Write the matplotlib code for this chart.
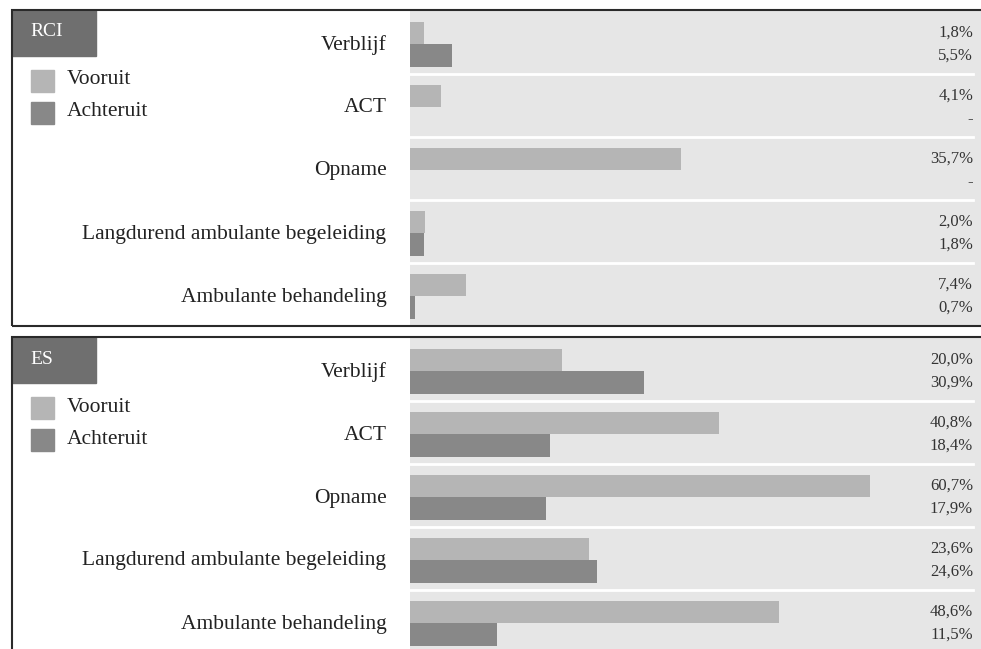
import numpy as np
import matplotlib
matplotlib.use("Agg")
import matplotlib.pyplot as plt
from matplotlib.patches import Rectangle
from matplotlib.transforms import blended_transform_factory

plt.rcParams["font.family"] = ["Liberation Serif", "DejaVu Serif"]

categories = ["Verblijf", "ACT", "Opname",
              "Langdurend ambulante begeleiding", "Ambulante behandeling"]
series_names = ["Vooruit", "Achteruit"]

rci_vooruit = [1.8, 4.1, 35.7, 2.0, 7.4]
rci_achteruit = [5.5, None, None, 1.8, 0.7]
es_vooruit = [20.0, 40.8, 60.7, 23.6, 48.6]
es_achteruit = [30.9, 18.4, 17.9, 24.6, 11.5]

panels = [("RCI", rci_vooruit, rci_achteruit), ("ES", es_vooruit, es_achteruit)]

W, H = 981, 649
LIGHT = "#b5b5b5"
DARK = "#888888"
BG = "#e6e6e6"
TITLE_BG = "#6f6f6f"
FRAME = "#2a2a2a"

fig = plt.figure(figsize=(W / 100, H / 100), dpi=100)


def fx(x):
    return x / W


def fy(y):
    return 1 - y / H


def fmt(v):
    return "-" if v is None else f"{v:.1f}%".replace(".", ",")


panel_tops = [10, 337]
panel_h = 316
bar_left = 410
x_max = 75.3
bh = 0.36
shift = 0.03

for (name, voor, acht), top in zip(panels, panel_tops):
    bottom = top + panel_h
    # panel frame (open on the right)
    fig.patches.append(Rectangle((fx(12), fy(bottom)), fx(W + 20 - 12), fy(top) - fy(bottom),
                                 transform=fig.transFigure, fill=False,
                                 edgecolor=FRAME, linewidth=1.5, zorder=5))
    # bar area
    ax = fig.add_axes([fx(bar_left), fy(bottom), fx(W - bar_left), fy(top + 1) - fy(bottom)])
    ax.set_facecolor(BG)
    n = len(categories)
    y = np.arange(n)
    v1 = np.array([np.nan if v is None else v for v in voor], dtype=float)
    v2 = np.array([np.nan if v is None else v for v in acht], dtype=float)
    ax.barh(y - bh / 2 + shift, np.nan_to_num(v1), height=bh, color=LIGHT, align="center")
    ax.barh(y + bh / 2 + shift, np.nan_to_num(v2), height=bh, color=DARK, align="center")
    ax.set_xlim(0, x_max)
    ax.set_ylim(n - 0.5, -0.5)
    tr = blended_transform_factory(ax.transAxes, ax.transData)
    for i in range(n - 1):
        ax.plot([0, 0.986], [i + 0.5, i + 0.5], color="white", linewidth=2, transform=tr)
    for i in range(n):
        ax.text(0.986, i - bh / 2 + shift, fmt(voor[i]), transform=tr, ha="right",
                va="center", fontsize=12, color="#333333")
        ax.text(0.986, i + bh / 2 + shift, fmt(acht[i]), transform=tr, ha="right",
                va="center", fontsize=12, color="#333333")
    ax.set_yticks(y)
    ax.set_yticklabels(categories, fontsize=15.5, color="#222222")
    ax.tick_params(axis="y", length=0, pad=17)
    ax.set_xticks([])
    for s in ax.spines.values():
        s.set_visible(False)

    # title tab
    fig.patches.append(Rectangle((fx(12), fy(top + 46)), fx(96 - 12), fy(top) - fy(top + 46),
                                 transform=fig.transFigure, color=TITLE_BG, zorder=4))
    fig.text(fx(30), fy(top + 22), name, color="white", fontsize=14,
             ha="left", va="center", zorder=6)

    # legend
    for k, (lab, col) in enumerate(zip(series_names, [LIGHT, DARK])):
        yc = top + 71 + k * 32
        fig.patches.append(Rectangle((fx(31), fy(yc + 11)), fx(23), fy(yc - 11) - fy(yc + 11),
                                     transform=fig.transFigure, color=col))
        fig.text(fx(67), fy(yc - 1), lab, fontsize=15.5, color="#222222",
                 ha="left", va="center")

fig.savefig("out.png", dpi=100)
